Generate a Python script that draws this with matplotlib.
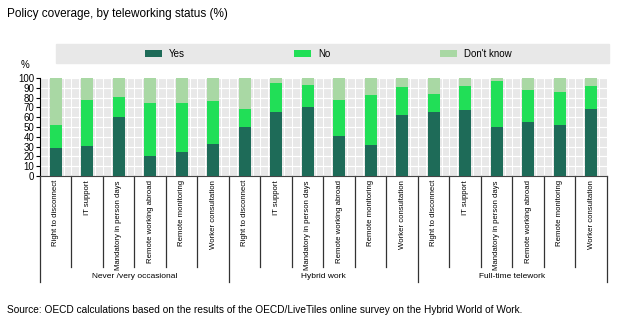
import numpy as np
import matplotlib
matplotlib.use("Agg")
from matplotlib import pyplot as plt
from matplotlib.patches import Rectangle
import matplotlib.transforms as mtransforms

policies = ["Right to disconnect", "IT support", "Mandatory in person days",
            "Remote working abroad", "Remote monitoring", "Worker consultation"]
groups = ["Never /very occasional", "Hybrid work", "Full-time telework"]

yes = [29, 31, 60, 20, 24, 33,
       50, 65, 70, 41, 32, 62,
       65, 67, 50, 55, 52, 68]
no = [23, 47, 21, 54, 50, 44,
      18, 30, 23, 37, 51, 29,
      19, 25, 47, 33, 34, 24]
dont_know = [100 - a - b for a, b in zip(yes, no)]

c_yes = "#1e6b58"
c_no = "#21df57"
c_dk = "#a9d8a4"

plt.rcParams["font.family"] = ["Liberation Sans", "DejaVu Sans"]

fig = plt.figure(figsize=(6.25, 3.21), dpi=100)
ax = fig.add_axes([0.064, 0.452, 0.907, 0.305])
ax.set_facecolor("#e8e8e8")

labels = policies * 3
x = np.arange(len(labels))
w = 0.38
b1 = ax.bar(x, yes, w, color=c_yes, label="Yes", zorder=3)
b2 = ax.bar(x, no, w, bottom=yes, color=c_no, label="No", zorder=3)
b3 = ax.bar(x, dont_know, w, bottom=np.array(yes) + np.array(no),
            color=c_dk, label="Don't know", zorder=3)

ax.set_xlim(-0.5, len(labels) - 0.5)
ax.set_ylim(0, 100)
ax.set_yticks(range(0, 101, 10))
ax.tick_params(axis="y", labelsize=7, length=3, width=0.8, pad=1)
for y in range(10, 101, 10):
    ax.axhline(y, color="white", lw=0.9, zorder=1)
for v in np.arange(-0.5, len(labels), 0.25):
    ax.axvline(v, color="white", lw=0.7, zorder=1)

for s in ["top", "right"]:
    ax.spines[s].set_visible(False)
ax.spines["left"].set_color("black")
ax.spines["bottom"].set_color("#444444")

ax.set_xticks(x)
ax.set_xticklabels(labels, rotation=90, fontsize=5.6, va="top")
ax.tick_params(axis="x", length=0, pad=3)

# separators under the axis
trans = mtransforms.blended_transform_factory(ax.transData, ax.transAxes)
for k in range(len(labels) + 1):
    edge = k - 0.5
    low = -1.08 if k % 6 == 0 else -0.93
    ax.plot([edge, edge], [0, low], color="#333333", lw=0.9,
            transform=trans, clip_on=False)
for g, name in enumerate(groups):
    ax.text(g * 6 + 2.5, -1.03, name, transform=trans, ha="center",
            va="center", fontsize=6)

fig.text(0.04, 0.797, "%", fontsize=7, ha="center", va="center")

# legend band
fig.patches.append(Rectangle((0.0896, 0.803), 0.885, 0.059,
                             transform=fig.transFigure, color="#e8e8e8", zorder=0))
fig.legend(handles=[b1, b2, b3], loc="center", bbox_to_anchor=(0.525, 0.832),
           ncol=3, frameon=False, fontsize=7, handlelength=1.75,
           handleheight=0.85, handletextpad=0.7, columnspacing=11.3)

fig.text(0.011, 0.955, "Policy coverage, by teleworking status (%)",
         fontsize=8.5, va="center")
fig.text(0.011, 0.033, "Source: OECD calculations based on the results of the "
         "OECD/LiveTiles online survey on the Hybrid World of Work.",
         fontsize=7.25, va="center")

fig.savefig("out.png", dpi=100)
